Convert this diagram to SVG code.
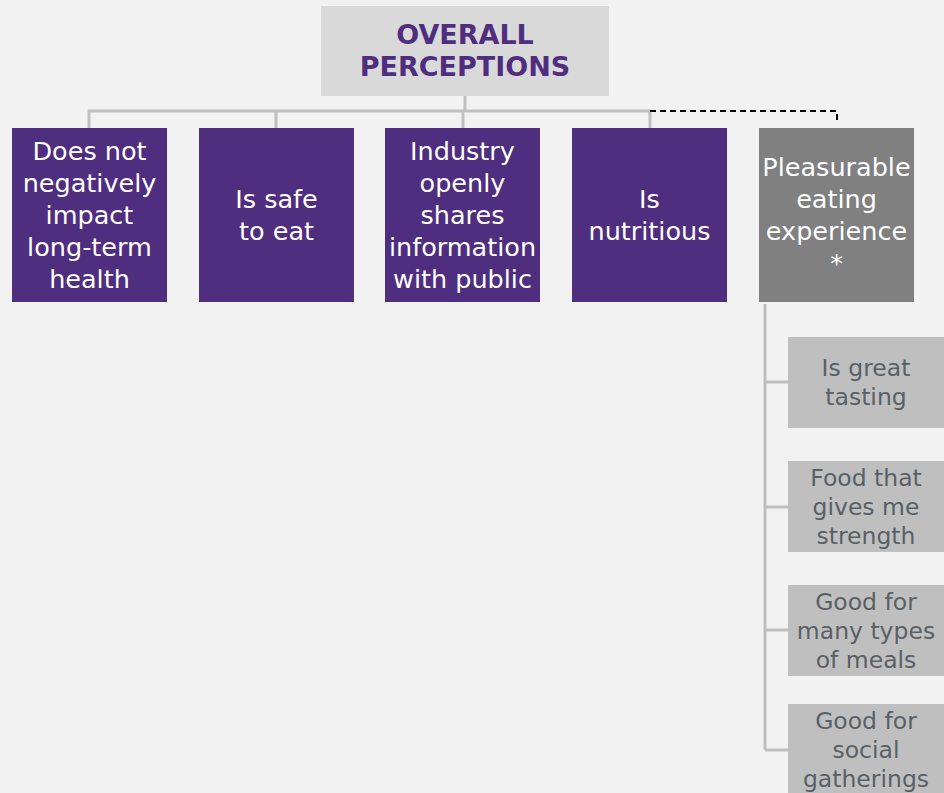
<svg xmlns="http://www.w3.org/2000/svg" width="944" height="793" viewBox="0 0 944 793">
<style>
.bg{fill:#f2f2f2}
.p{fill:#4f2d7f}
.g{fill:#808080}
.s{fill:#bfbfbf}
.top{fill:#d9d9d9}
.tt{font-family:"DejaVu Sans",Verdana,sans-serif;font-weight:bold;font-size:27px;fill:#4f2d7f;text-anchor:middle}
.wt{font-family:"DejaVu Sans",Verdana,sans-serif;font-size:25.5px;fill:#ffffff;text-anchor:middle}
.st{font-family:"DejaVu Sans",Verdana,sans-serif;font-size:23.5px;fill:#595f66;text-anchor:middle}
.c{stroke:#bfbfbf;stroke-width:3;fill:none}
.d{stroke:#000000;stroke-width:2;fill:none;stroke-dasharray:6 4}
</style>
<rect class="bg" x="0" y="0" width="944" height="793"/>
<g id="connectors">
<path class="c" d="M465 96 V111 M89 128 V111 H650 V128 M276 111 V128 M463 111 V128"/>
<path class="d" d="M650 111 H837 V124"/>
<path class="c" d="M765 304 V750 M765 382 H788 M765 507 H788 M765 630 H788 M765 750 H788"/>
</g>
<g id="overall">
<rect class="top" x="321" y="6" width="288" height="90"/>
<text class="tt" x="465" y="44">OVERALL</text>
<text class="tt" x="465" y="76">PERCEPTIONS</text>
</g>
<g id="n1">
<rect class="p" x="12" y="128" width="155" height="174"/>
<text class="wt" x="89.5" y="160">Does not</text>
<text class="wt" x="89.5" y="192">negatively</text>
<text class="wt" x="89.5" y="224">impact</text>
<text class="wt" x="89.5" y="256">long-term</text>
<text class="wt" x="89.5" y="288">health</text>
</g>
<g id="n2">
<rect class="p" x="199" y="128" width="155" height="174"/>
<text class="wt" x="276.5" y="208">Is safe</text>
<text class="wt" x="276.5" y="240">to eat</text>
</g>
<g id="n3">
<rect class="p" x="385" y="128" width="155" height="174"/>
<text class="wt" x="462.5" y="160">Industry</text>
<text class="wt" x="462.5" y="192">openly</text>
<text class="wt" x="462.5" y="224">shares</text>
<text class="wt" x="462.5" y="256">information</text>
<text class="wt" x="462.5" y="288">with public</text>
</g>
<g id="n4">
<rect class="p" x="572" y="128" width="155" height="174"/>
<text class="wt" x="649.5" y="208">Is</text>
<text class="wt" x="649.5" y="240">nutritious</text>
</g>
<g id="n5">
<rect class="g" x="759" y="128" width="155" height="174"/>
<text class="wt" x="836.5" y="176">Pleasurable</text>
<text class="wt" x="836.5" y="208">eating</text>
<text class="wt" x="836.5" y="240">experience</text>
<text class="wt" x="836.5" y="272">*</text>
</g>
<g id="s1">
<rect class="s" x="788" y="337" width="156" height="91"/>
<text class="st" x="866" y="376">Is great</text>
<text class="st" x="866" y="405">tasting</text>
</g>
<g id="s2">
<rect class="s" x="788" y="461" width="156" height="91"/>
<text class="st" x="866" y="486">Food that</text>
<text class="st" x="866" y="515">gives me</text>
<text class="st" x="866" y="544">strength</text>
</g>
<g id="s3">
<rect class="s" x="788" y="585" width="156" height="91"/>
<text class="st" x="866" y="610">Good for</text>
<text class="st" x="866" y="639">many types</text>
<text class="st" x="866" y="668">of meals</text>
</g>
<g id="s4">
<rect class="s" x="788" y="704" width="156" height="89"/>
<text class="st" x="866" y="729">Good for</text>
<text class="st" x="866" y="758">social</text>
<text class="st" x="866" y="787">gatherings</text>
</g>
</svg>
